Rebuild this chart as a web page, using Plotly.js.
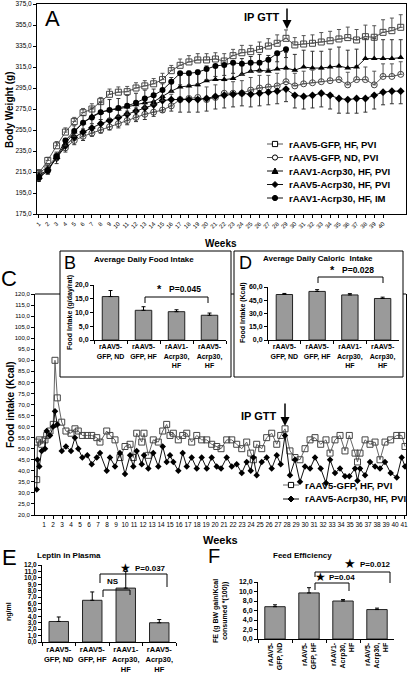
<!DOCTYPE html>
<html><head><meta charset="utf-8">
<script src="https://cdn.plot.ly/plotly-3.0.1.min.js"></script>
<style>html,body{margin:0;padding:0;background:#fff}#chart{width:410px;height:688px}</style>
</head><body><div id="chart"></div>
<script>
// ---------- Panel A: body weight ----------
const weeksA = [1,2,3,4,5,6,7,8,9,10,11,12,13,14,15,16,17,18,19,20,21,22,23,24,25,26,27,28,29,30,31,32,33,34,35,36,37,38,39,40,41,42];
const weekLabelsA = [1,2,3,4,5,6,7,8,9,10,11,12,13,14,15,16,17,18,19,20,21,22,23,24,25,26,27,28,29,30,31,32,33,34,35,36,37,38,39,40];
const seriesNamesA = ['rAAV5-GFP, HF, PVI','rAAV5-GFP, ND, PVI','rAAV1-Acrp30, HF, PVI','rAAV5-Acrp30, HF, PVI','rAAV1-Acrp30, HF, IM'];
const bwGfpHF = [214,226,240,253,263,271.5,275,282,289,291,291.5,295,297,299,303,311.5,316.6,319.8,321.7,321.7,322.6,320.7,325.8,328.6,329.6,331.8,335,337.6,342.3,336,336.9,337.6,338.8,340,341.7,343,340.7,343.9,343.3,348,349.6,352.8];
const bwGfpHFerr = [3,3,4,4,4,4,5,4,5,5,5,5,5,5,6,5,6,6,6,6,6,7,6,7,6,7,7,8,8,7,8,8,9,9,9,10,10,11,11,12,12,12];
const bwGfpND = [214,220,230,238,245,249,252,255,258,261,264,267,270,272,274,278,284,285,286,284,286,290,290,290,293,295,296,297,301,297,299,300,301,302,303,298,303,303,298,306,306,308];
const bwGfpNDerr = [3,3,4,5,5,6,6,7,8,8,9,9,10,10,11,11,12,12,11,12,12,12,11,12,12,12,11,12,12,12,12,12,12,13,12,12,13,12,13,12,12,12];
const bwA1PVI = [212,217,229,242,253,262,268,272,274,275,277,279,281,282,287,292,296,297,298,302,303,303,304,308,311,312,311,313,314,312,315,314,314,315,316,314,315,323,323,323,323,324];
const bwA1PVIerr = [3,4,4,5,6,7,8,9,10,10,11,11,12,12,12,13,13,14,14,14,14,15,15,15,14,15,15,14,15,15,16,16,16,17,18,17,17,19,19,18,18,17];
const bwA5PVI = [209,217,228,240,248,253,257,261,264,267,270,273,276,279,283,284,284,284,284,285,287,288,289,290,289,290,291,292,294,288,287,288,290,288,285,284,285,285,288,291,292,292];
const bwA5PVIerr = [3,4,5,6,7,8,8,9,9,10,10,10,11,11,11,11,12,12,12,12,12,12,12,12,12,12,12,12,12,12,12,12,13,13,14,13,14,13,13,12,12,12];
const bwA1IM = [210,216,230,245,254,262,267,272,274,276,278,281,285,288,293,301,309,309,310,313,316,317,319,318,319,319,322,328,332];
const bwA1IMerr = [3,3,4,5,5,6,6,7,8,8,8,9,9,9,10,10,11,11,11,10,10,10,10,10,9,9,9,8,8];

// ---------- Panel C: food intake ----------
const dayWeeksC = [0.19,0.28,0.48,0.74,1.11,1.30,1.67,2.03,2.22,2.48,2.97,3.44,4.00,4.44,4.81,5.26,5.81,6.30,6.86,7.22,7.97,8.33,8.89,9.44,10.0,10.56,10.92,11.3,11.86,12.11,12.59,13.14,13.7,14.19,14.63,15.0,15.37,15.92,16.41,16.86,17.41,17.97,18.52,19.08,19.63,20.19,20.67,21.3,21.86,22.41,22.97,23.52,23.97,24.26,24.63,25.19,25.74,26.3,26.86,27.3,27.78,28.33,28.89,29.44,30.0,30.56,31.11,31.74,32.33,32.78,33.33,33.89,34.44,34.92,35.56,35.83,36.11,36.67,37.22,37.78,38.33,38.89,39.52,40.19,40.74,41.11];
const weekLabelsC = [1,2,3,4,5,6,7,8,9,10,11,12,13,14,15,16,17,18,19,20,21,22,23,24,25,26,27,28,29,30,31,32,33,34,35,36,37,38,39,40,41];
const seriesNamesC = ['rAAV5-GFP, HF, PVI','rAAV5-Acrp30, HF, PVI'];
const fiGfpHF = [36,53,54,52,54,56,58,61,90,73,62,58,57,59,58,56,56,56,55,53,58,56,54,46,51,52,46,57,53,57,47,54,53,58,61,56,57,54,56,57,53,56,54,54,52,51,50,54,54,52,50,53,48,45,52,50,55,57,52,56,59,49,46,45,50,54,55,52,54,48,54,56,49,56,48,44,48,54,52,53,45,53,54,56,56,51];
const fiA5HF = [31.5,45,42,49,50,58,56,60,67,61,49,51,49,55,50,46,47,43,46,48,40,46,42,48,38.5,47,42,49,43,47,41,48,42,51,44,47,44,40,48,42,46,41,46,41,46,42,41,46,42,43,39,44,40,46,38,44,46,41,47,43,56,38,45,35,42,41,46,41,34.5,45,39,41,37.5,37.5,41,35.5,41,38,44,42,41,44,39,37,46,42];

// ---------- Panels B, D, E, F: bar charts ----------
const groups = ['rAAV5-<br>GFP, ND','rAAV5-<br>GFP, HF','rAAV1-<br>Acrp30,<br>HF','rAAV5-<br>Acrp30,<br>HF'];
const foodG = [15.8,10.8,10.3,9.0];
const foodGerr = [2.2,1.3,0.7,0.8];
const foodKcal = [51.5,55,51,47];
const foodKcalErr = [1.2,2,1.5,1.5];
const leptin = [3.2,6.5,8.4,3.0];
const leptinErr = [0.7,1.3,2.6,0.5];
const feedEff = [6.8,9.7,8.0,6.2];
const feedEffErr = [0.4,1.1,0.3,0.3];

// ---------- helpers (page pixel -> paper) ----------
const W = 410, H = 688;
const PX = x => x / W;
const PY = y => 1 - y / H;
const FONT = 'Liberation Sans, Arial, sans-serif';

const errUp = (arr, col) => ({type:'data', symmetric:false, array:arr, arrayminus:arr.map(()=>0), color:col||'#333', thickness:1, width:2});
const errDn = (arr, col) => ({type:'data', symmetric:false, array:arr.map(()=>0), arrayminus:arr, color:col||'#333', thickness:1, width:2});

const styleA = [
  {line:{color:'#555', width:1}, marker:{symbol:'square-open', size:6, color:'#444', line:{width:1}}},
  {line:{color:'#555', width:1}, marker:{symbol:'circle-open', size:6, color:'#444', line:{width:1}}},
  {line:{color:'#111', width:1}, marker:{symbol:'triangle-up', size:6, color:'#000'}},
  {line:{color:'#111', width:1}, marker:{symbol:'diamond', size:6, color:'#000'}},
  {line:{color:'#111', width:1}, marker:{symbol:'circle', size:6, color:'#000'}}
];
const dataA = [bwGfpHF, bwGfpND, bwA1PVI, bwA5PVI, bwA1IM];
const errA = [errUp(bwGfpHFerr,'#555'), errUp(bwGfpNDerr,'#555'), errUp(bwA1PVIerr,'#333'), errDn(bwA5PVIerr,'#333'), errDn(bwA1IMerr,'#333')];

const traces = [];
dataA.forEach((vals, k) => {
  traces.push(Object.assign({x:weeksA.slice(0, vals.length), y:vals, name:seriesNamesA[k], mode:'lines+markers', xaxis:'x', yaxis:'y', showlegend:false, error_y:errA[k]}, styleA[k]));
});
traces.push({x:dayWeeksC, y:fiGfpHF, name:seriesNamesC[0], mode:'lines+markers', xaxis:'x2', yaxis:'y2', showlegend:false,
  line:{color:'#666', width:1}, marker:{symbol:'square-open', size:6, color:'#444', line:{width:1}}});
traces.push({x:dayWeeksC, y:fiA5HF, name:seriesNamesC[1], mode:'lines+markers', xaxis:'x2', yaxis:'y2', showlegend:false,
  line:{color:'#111', width:1}, marker:{symbol:'diamond', size:5, color:'#000'}});
const barStyle = {color:'#9a9a9a', line:{color:'#222', width:1}};
traces.push({type:'bar', x:groups, y:foodG, xaxis:'x3', yaxis:'y3', width:0.5, marker:barStyle, error_y:errUp(foodGerr,'#000'), showlegend:false});
traces.push({type:'bar', x:groups, y:foodKcal, xaxis:'x4', yaxis:'y4', width:0.5, marker:barStyle, error_y:errUp(foodKcalErr,'#000'), showlegend:false});
traces.push({type:'bar', x:groups, y:leptin, xaxis:'x5', yaxis:'y5', width:0.58, marker:barStyle, error_y:errUp(leptinErr,'#000'), showlegend:false});
traces.push({type:'bar', x:groups, y:feedEff, xaxis:'x6', yaxis:'y6', width:0.6, marker:barStyle, error_y:errUp(feedEffErr,'#000'), showlegend:false});

const tickSmall = {family:FONT, size:6.5, color:'#000'};
const tickBold = {family:FONT, size:7, color:'#000', weight:'bold'};
const baseAx = {showgrid:false, zeroline:false, showline:true, linecolor:'#000', linewidth:1, ticks:'outside', ticklen:3, tickcolor:'#000'};

const C_TOP = 294, C_BOT = 515;
const layout = {
  width:W, height:H, margin:{l:0,r:0,t:0,b:0}, paper_bgcolor:'#fff', plot_bgcolor:'rgba(0,0,0,0)',
  separators:',.', font:{family:FONT, color:'#000'}, showlegend:false,
  xaxis: Object.assign({}, baseAx, {domain:[PX(37),PX(406)], anchor:'y', range:[0.78,42.6], tickvals:weekLabelsA, ticktext:weekLabelsA.map(String), tickangle:-45, tickfont:{family:FONT,size:6}, mirror:true}),
  yaxis: Object.assign({}, baseAx, {domain:[PY(214),PY(4)], anchor:'x', range:[175,375], tick0:175, dtick:20, tickformat:'.1f', tickfont:tickSmall, mirror:true}),
  xaxis2: Object.assign({}, baseAx, {domain:[PX(35),PX(406)], anchor:'y2', range:[0,41.22], tickvals:weekLabelsC, ticktext:weekLabelsC.map(String), tickangle:0, tickfont:tickSmall}),
  yaxis2: Object.assign({}, baseAx, {domain:[PY(C_BOT),PY(C_TOP)], anchor:'x2', range:[20,120], dtick:5, tickformat:'.1f', tickfont:{family:FONT,size:6}, mirror:true}),
  xaxis3: Object.assign({}, baseAx, {domain:[PX(94),PX(226)], anchor:'y3', type:'category', tickson:'boundaries', tickfont:tickBold, tickangle:0}),
  yaxis3: Object.assign({}, baseAx, {domain:[PY(340),PY(285)], anchor:'x3', range:[0,20], dtick:5, tickformat:'.1f', tickfont:tickBold}),
  xaxis4: Object.assign({}, baseAx, {domain:[PX(268),PX(399)], anchor:'y4', type:'category', tickson:'boundaries', tickfont:tickBold, tickangle:0}),
  yaxis4: Object.assign({}, baseAx, {domain:[PY(340),PY(287)], anchor:'x4', range:[0,60], dtick:15, tickformat:'.1f', tickfont:tickBold}),
  xaxis5: Object.assign({}, baseAx, {domain:[PX(42),PX(176)], anchor:'y5', type:'category', tickson:'boundaries', tickfont:{family:FONT,size:7.5,weight:'bold'}, tickangle:0}),
  yaxis5: Object.assign({}, baseAx, {domain:[PY(642),PY(565)], anchor:'x5', range:[0,12], dtick:1, tickformat:'.1f', tickfont:{family:FONT,size:6.5,weight:'bold'}}),
  xaxis6: Object.assign({}, baseAx, {domain:[PX(258),PX(394)], anchor:'y6', type:'category', tickson:'boundaries', tickfont:{family:FONT,size:7,weight:'bold'}, tickangle:-90}),
  yaxis6: Object.assign({}, baseAx, {domain:[PY(639),PY(582)], anchor:'x6', range:[0,12], dtick:2, tickformat:'.1f', tickfont:tickBold}),
  shapes:[], annotations:[]
};

const S = layout.shapes, A = layout.annotations;
function line(x0,y0,x1,y1,w,col){S.push({type:'line', xref:'paper', yref:'paper', x0:PX(x0), y0:PY(y0), x1:PX(x1), y1:PY(y1), line:{color:col||'#000', width:w||1}});}
function text(x,y,t,size,opt){A.push(Object.assign({xref:'paper', yref:'paper', x:PX(x), y:PY(y), text:t, showarrow:false, font:{family:FONT, size:size, color:'#000'}, xanchor:'center', yanchor:'middle'}, opt||{}));}
function arrowDown(x,y0,y1){A.push({xref:'paper', yref:'paper', x:PX(x), y:PY(y1), ax:0, ay:-(y1-y0), text:'', showarrow:true, arrowhead:2, arrowsize:1.2, arrowwidth:1.5, arrowcolor:'#000'});}
function bracket(x0,x1,y,yl,yr){line(x0,yl,x0,y); line(x0,y,x1,y); line(x1,y,x1,yr);}
function legendEntry(x,y,sym,filled,label,lineCol){
  line(x,y,x+16,y,1,lineCol);
  const cx = x+8, r = 2.6, fill = filled ? '#000' : '#fff', ln = {color:'#000', width:1};
  if (sym==='square') S.push({type:'rect', xref:'paper', yref:'paper', x0:PX(cx-r), x1:PX(cx+r), y0:PY(y+r), y1:PY(y-r), fillcolor:fill, line:ln});
  if (sym==='circle') S.push({type:'circle', xref:'paper', yref:'paper', x0:PX(cx-r), x1:PX(cx+r), y0:PY(y+r), y1:PY(y-r), fillcolor:fill, line:ln});
  if (sym==='triangle') S.push({type:'path', xref:'paper', yref:'paper', path:`M ${PX(cx-3)} ${PY(y+2.5)} L ${PX(cx+3)} ${PY(y+2.5)} L ${PX(cx)} ${PY(y-3)} Z`, fillcolor:fill, line:ln});
  if (sym==='diamond') S.push({type:'path', xref:'paper', yref:'paper', path:`M ${PX(cx-3)} ${PY(y)} L ${PX(cx)} ${PY(y-3)} L ${PX(cx+3)} ${PY(y)} L ${PX(cx)} ${PY(y+3)} Z`, fillcolor:fill, line:ln});
  text(x+20,y,'<b>'+label+'</b>',9.5,{xanchor:'left'});
}

// inset boxes for B and D
S.push({type:'rect', xref:'paper', yref:'paper', x0:PX(60), x1:PX(231), y0:PY(377), y1:PY(251), line:{color:'#000', width:1}, fillcolor:'#fff', layer:'below'});
S.push({type:'rect', xref:'paper', yref:'paper', x0:PX(234), x1:PX(403), y0:PY(377), y1:PY(251), line:{color:'#000', width:1}, fillcolor:'#fff', layer:'below'});
line(35,C_TOP,60,C_TOP); line(231,C_TOP,234,C_TOP); line(403,C_TOP,406,C_TOP);

// Panel A
text(43,18,'A',22,{xanchor:'left'});
text(262,17,'<b>IP GTT</b>',11);
arrowDown(287,7,29);
text(221,243,'<b>Weeks</b>',10);
text(9,110,'<b>Body Weight (g)</b>',10,{textangle:-90});
const symA = [['square',false,'#555'],['circle',false,'#555'],['triangle',true,'#111'],['diamond',true,'#111'],['circle',true,'#111']];
seriesNamesA.forEach((nm,k)=>legendEntry(267, 144+13.5*k, symA[k][0], symA[k][1], nm, symA[k][2]));
// Panel C
text(9,279,'C',22);
text(259,416,'<b>IP GTT</b>',11);
arrowDown(285,402,426);
text(220,540,'<b>Weeks</b>',11);
text(10,405,'<b>Food intake (Kcal)</b>',10,{textangle:-90});
legendEntry(283,485,'square',false,seriesNamesC[0],'#666');
legendEntry(283,499,'diamond',true,seriesNamesC[1],'#111');
// Panel B
text(62,263,'B',18,{xanchor:'left'});
text(144,259,'<b>Average Daily Food Intake</b>',8);
text(70,313,'<b>Food Intake (g/day/rat)</b>',7,{textangle:-90});
text(159,289,'<b>*</b>',11);
text(167,289,'<b>P=0.045</b>',8.5,{xanchor:'left'});
bracket(145,208,297,303,303);
// Panel D
text(237,263,'D',18,{xanchor:'left'});
text(318,258,'<b>Average Daily Caloric  Intake</b>',8);
text(243,313,'<b>Food Intake (Kcal)</b>',7,{textangle:-90});
text(332,270,'<b>*</b>',11);
text(340,270,'<b>P=0.028</b>',8.5,{xanchor:'left'});
bracket(318,383,277,283,283);
// Panel E
text(9,557,'E',22);
text(69,555,'<b>Leptin in Plasma</b>',8);
text(9,612,'<b>ng/ml</b>',7,{textangle:-90});
text(125,568,'★',12);
text(133,568,'<b>P=0.037</b>',8,{xanchor:'left'});
bracket(100,167,574,583,587);
text(113,581,'<b>NS</b>',8);
bracket(103,130,590,597,595);
// Panel F
text(214,556,'F',20);
text(302,555,'<b>Feed Efficiency</b>',8);
text(220,611,'<b>FE (g BW gain/Kcal<br>consumed *(100))</b>',7,{textangle:-90});
text(350,563,'★',13);
text(358,564,'<b>P=0.012</b>',8,{xanchor:'left'});
bracket(315,390,572,577,583);
text(320,577,'★',12);
text(327,577,'<b>P=0.04</b>',8,{xanchor:'left'});
bracket(315,349,583,590,591);

Plotly.newPlot('chart', traces, layout, {staticPlot:true, displayModeBar:false});
</script></body></html>
